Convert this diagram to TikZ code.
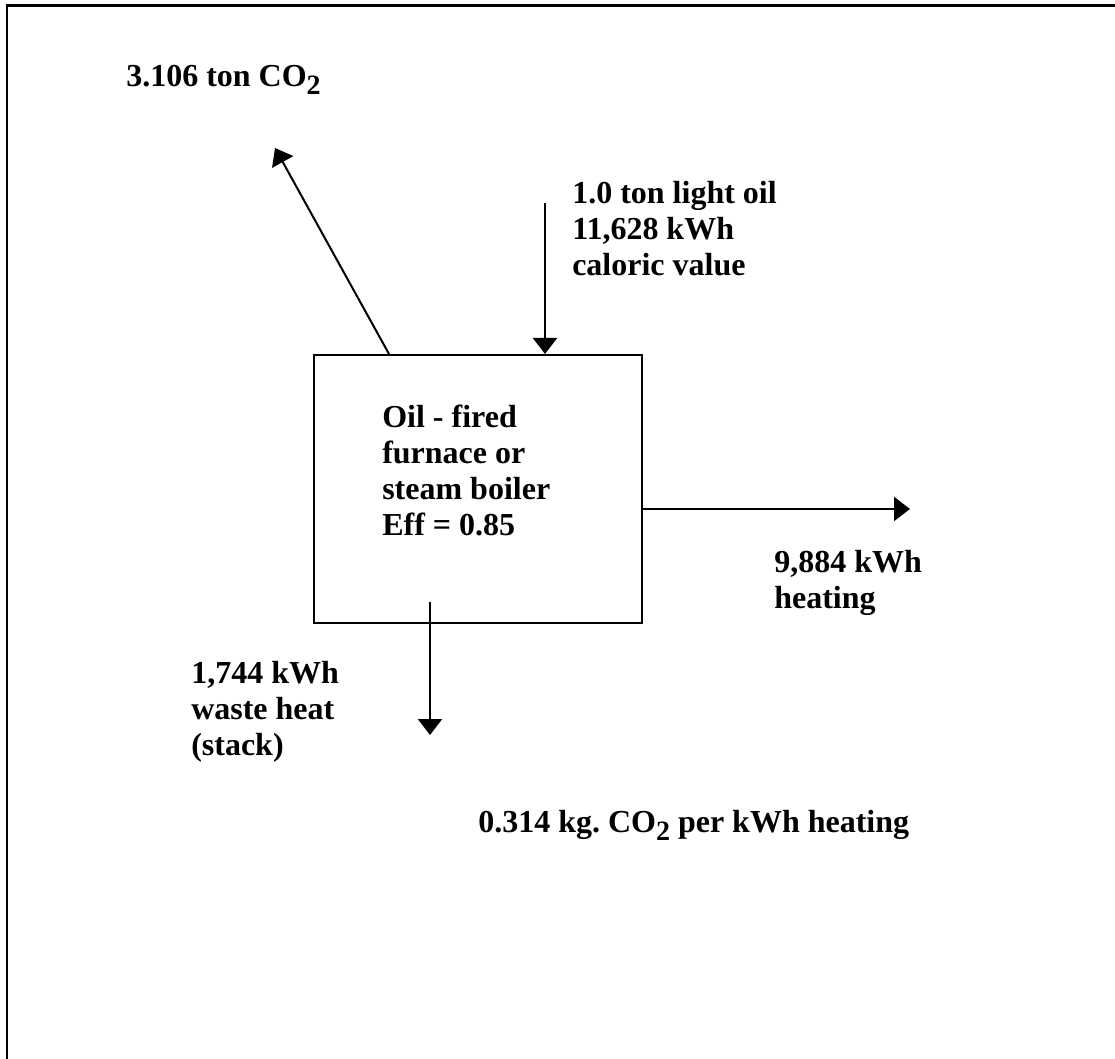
\documentclass[tikz,border=0pt]{standalone}
\usepackage{fontspec}
\setmainfont{Liberation Serif}
\usepackage{tikz}
\usetikzlibrary{arrows.meta,positioning,calc}
\tikzset{
  flow/.style={-{Triangle[length=12pt,width=18pt]}, line width=1.5pt, black},
  unitbox/.style={draw, line width=1.5pt, minimum width=246pt, minimum height=201pt, inner sep=0pt},
  lbl/.style={font=\fontsize{24}{27}\selectfont\bfseries\frenchspacing, align=left, inner sep=0pt, anchor=north west},
  frame/.style={line width=2.2pt},
}
\newcommand{\cotwo}{CO\raisebox{-6pt}{\fontsize{21}{21}\selectfont 2}}

\begin{document}
\begin{tikzpicture}[x=0.75pt,y=-0.75pt]
\useasboundingbox (0,0) rectangle (1115,1059);
% --- page frame (only top and left edges show) ---
\draw[frame] (1115,5.5) -- (7,5.5) -- (7,1059);
% --- furnace / boiler ---
\node[unitbox] (furnace) at (478,489) {};
\node[lbl] (furnacetxt) at (382,405) {Oil - fired\\furnace or\\steam boiler\\Eff = 0.85};
% --- fuel in ---
\coordinate (oilsrc) at (545,203);
\draw[flow] (oilsrc) -- (oilsrc |- furnace.north);
\node[lbl] (oillbl) at (572,181) {1.0 ton light oil\\11,628 kWh\\caloric value};
% --- CO2 out ---
\coordinate (co2tip) at (275,148);
\draw[flow] ($(furnace.north west)+(76,0)$) -- (co2tip);
\node[lbl] (co2lbl) at (126,65) {3.106 ton \cotwo};
% --- useful heat out ---
\coordinate (heattip) at (910,509);
\draw[flow] (furnace.east |- heattip) -- (heattip);
\node[lbl] (heatlbl) at (774,550) {9,884 kWh\\heating};
% --- stack losses ---
\coordinate (wastetop) at (430,602);
\coordinate (wastetip) at (430,735);
\draw[flow] (wastetop) -- (wastetip);
\node[lbl] (wastelbl) at (191,661) {1,744 kWh\\waste heat\\(stack)};
% --- specific emission ---
\node[lbl] (specific) at (478,810) {0.314 kg. \cotwo{} per kWh heating};
\end{tikzpicture}
\end{document}
